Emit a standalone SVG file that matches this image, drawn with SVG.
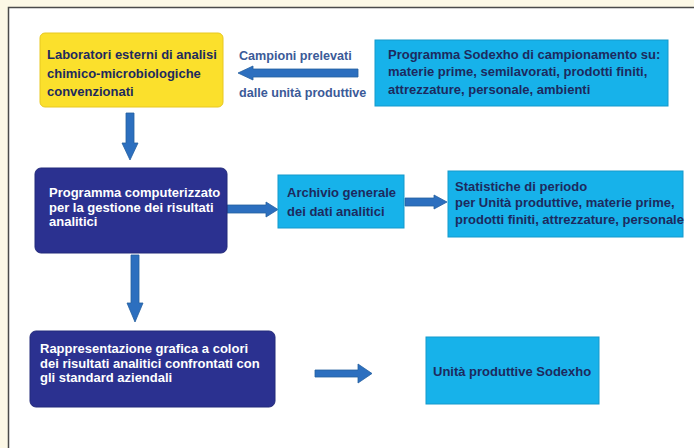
<svg xmlns="http://www.w3.org/2000/svg" width="694" height="448" viewBox="0 0 694 448">
<style>
  text { font-family: "Liberation Sans", Arial, sans-serif; font-weight: bold; font-size: 13px; }
  .dark { fill: #1d2a5e; }
  .white { fill: #ffffff; }
  .label { fill: #3b5a98; font-size: 12.6px; }
  .yellow { fill: #fbe02c; stroke: #e8c820; stroke-width: 1; }
  .cyan { fill: #17b2ea; stroke: #1499cc; stroke-width: 1; }
  .navy { fill: #2b3190; stroke: #232a7a; stroke-width: 1; }
  .arrow { fill: #2c6fbf; stroke: #25609f; stroke-width: 0.8; }
</style>
<rect x="0" y="0" width="694" height="448" fill="#fcf8e6"/>
<rect x="8.5" y="7.5" width="700" height="460" fill="#ffffff" stroke="#4a4a4a" stroke-width="1.5"/>

<g id="connectors">
  <polygon class="arrow" points="358,69 253,69 253,66 238,73 253,80 253,77 358,77"/>
  <polygon class="arrow" points="126,113 134,113 134,143 138,143 130,160 122,143 126,143"/>
  <polygon class="arrow" points="227,205 266,205 266,202 278,209.5 266,217 266,213 227,213"/>
  <polygon class="arrow" points="405,198 434,198 434,195 447,202 434,209 434,206 405,206"/>
  <polygon class="arrow" points="131,255 139,255 139,303 143,303 135,322 127,303 131,303"/>
  <polygon class="arrow" points="315,370 358,370 358,364 372,373.5 358,383 358,377 315,377"/>
</g>

<g id="node-laboratori">
  <rect class="yellow" x="40" y="33" width="183" height="74" rx="5"/>
  <text class="dark" x="47" y="59">Laboratori esterni di analisi</text>
  <text class="dark" x="47" y="78">chimico-microbiologiche</text>
  <text class="dark" x="47" y="96">convenzionati</text>
</g>

<g id="label-campioni">
  <text class="label" x="239" y="60">Campioni prelevati</text>
  <text class="label" x="239" y="97">dalle unità produttive</text>
</g>

<g id="node-programma-sodexho">
  <rect class="cyan" x="375" y="40" width="293" height="66"/>
  <text class="dark" x="388" y="59">Programma  Sodexho di campionamento su:</text>
  <text class="dark" x="388" y="76">materie prime, semilavorati, prodotti finiti,</text>
  <text class="dark" x="388" y="94">attrezzature, personale, ambienti</text>
</g>

<g id="node-programma-computerizzato">
  <rect class="navy" x="35" y="168" width="192" height="85" rx="6"/>
  <text class="white" x="49" y="197">Programma computerizzato</text>
  <text class="white" x="49" y="211.5">per la gestione dei risultati</text>
  <text class="white" x="49" y="226">analitici</text>
</g>

<g id="node-archivio">
  <rect class="cyan" x="278" y="175" width="126" height="53"/>
  <text class="dark" x="287" y="197">Archivio generale</text>
  <text class="dark" x="287" y="216">dei dati analitici</text>
</g>

<g id="node-statistiche">
  <rect class="cyan" x="448" y="171" width="235" height="66"/>
  <text class="dark" x="455" y="191">Statistiche di periodo</text>
  <text class="dark" x="455" y="207">per Unità produttive, materie prime,</text>
  <text class="dark" x="455" y="224">prodotti finiti, attrezzature, personale</text>
</g>

<g id="node-rappresentazione">
  <rect class="navy" x="30" y="331" width="245" height="76" rx="6"/>
  <text class="white" x="40" y="353">Rappresentazione grafica a colori</text>
  <text class="white" x="40" y="368">dei risultati analitici confrontati con</text>
  <text class="white" x="40" y="382">gli standard aziendali</text>
</g>

<g id="node-unita">
  <rect class="cyan" x="426" y="337" width="173" height="67"/>
  <text class="dark" x="433" y="376">Unità produttive Sodexho</text>
</g>
</svg>
